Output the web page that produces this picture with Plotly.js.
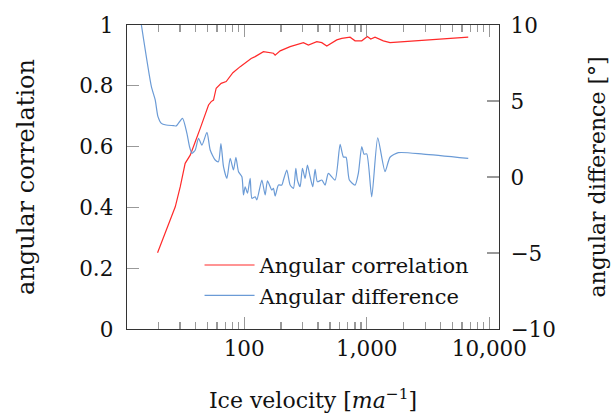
<!DOCTYPE html>
<html><head><meta charset="utf-8">
<script src="https://cdn.plot.ly/plotly-3.0.1.min.js"></script>
<style>html,body{margin:0;padding:0;background:#fff}#chart{width:611px;height:415px}</style>
</head><body><div id="chart"></div>
<script>
// Angular correlation vs ice velocity
const corrVelocity = [19.65,22.7,27.4,30.1,33.0,36.3,38.2,39.9,43.8,48.1,51.2,53.8,56.2,59.1,64.9,71.3,80.9,92.8,105.2,114.0,122.9,143.6,173.3,178.9,196.6,237.1,304.3,334.2,391.3,429.8,472.1,569.5,625.6,731.0,802.8,910.2,1011,1078,1168,1366,1548,6730];
const corrValues   = [0.251,0.315,0.402,0.468,0.545,0.572,0.594,0.616,0.66,0.71,0.737,0.748,0.753,0.792,0.808,0.814,0.843,0.863,0.879,0.89,0.896,0.912,0.907,0.901,0.915,0.929,0.942,0.934,0.945,0.942,0.931,0.951,0.956,0.96,0.948,0.948,0.962,0.954,0.96,0.948,0.942,0.96];
// Angular difference (degrees) vs ice velocity
const diffVelocity = [14.5,17.5,18.8,19.8,21.1,23.1,26.5,27.9,31.4,34.1,35.8,37.5,39.9,42.4,45.2,49.7,52.8,58.0,61.7,64.6,67.8,72.3,76.9,81.8,85.6,89.9,95.8,98.7,101.9,106.4,111.9,115.6,122.9,126.9,139.4,148.3,154.9,168.2,173.3,178.9,190.4,202.9,209.1,222.8,237.1,252.2,263.9,271.9,286.1,298.7,314.2,328.1,345.1,363.0,378.9,395.7,429.8,457.2,486.4,551.5,605.9,644.6,678.2,721.4,802.8,854.0,910.2,950.6,1000,1098,1229,1410,1548,1809,2892,6730];
const diffValues   = [10.0,5.94,5.07,3.97,3.53,3.42,3.38,3.36,3.86,2.87,2.0,1.56,1.78,2.55,2.1,2.94,1.78,1.12,1.0,2.2,0.68,-0.09,1.23,0.46,1.3,0.35,0.02,-1.18,-0.64,-1.07,-0.09,-1.4,-1.3,-1.5,-0.2,-1.18,-0.26,-0.86,-0.75,-1.25,-0.53,-0.53,-0.2,0.46,-0.53,-0.75,0.57,-0.2,-0.64,0.57,-0.09,0.79,0.02,-0.64,0.5,-0.31,-0.2,-0.53,0.24,-0.2,2.15,1.32,1.3,-0.2,-0.53,0.24,2.0,1.5,1.52,-1.3,2.57,0.35,1.3,1.6,1.51,1.23];
// Axis ticks
const xTickVals = [100,1000,10000];
const xTickText = ['100','1,000','10,000'];
const xMinorVals = [20,30,40,50,60,70,80,90,200,300,400,500,600,700,800,900,2000,3000,4000,5000,6000,7000,8000,9000];
const yLeftTicks = [0,0.2,0.4,0.6,0.8,1];
const yLeftText = ['0','0.2','0.4','0.6','0.8','1'];
const yRightTicks = [-10,-5,0,5,10];
const yRightText = ['\u221210','\u22125','0','5','10'];

const FONT = 'DejaVu Serif';
const traces = [
  {x: corrVelocity, y: corrValues, type:'scatter', mode:'lines', name:'Angular correlation',
   line:{color:'#ff2a2a', width:1.2}, yaxis:'y'},
  {x: diffVelocity, y: diffValues, type:'scatter', mode:'lines', name:'Angular difference',
   line:{color:'#6b9bd6', width:1.2, shape:'spline', smoothing:0.6}, yaxis:'y2'}
];
const layout = {
  width:611, height:415,
  margin:{l:127, r:112, t:25, b:86},
  paper_bgcolor:'#fff', plot_bgcolor:'#fff',
  font:{family:FONT, size:21.5, color:'#111'},
  showlegend:true,
  legend:{x:0.195, y:0.16, xanchor:'left', yanchor:'middle', bgcolor:'rgba(0,0,0,0)',
          font:{family:FONT, size:21}, tracegroupgap:0, itemwidth:50},
  xaxis:{type:'log', range:[1.044,4.079], showgrid:false, zeroline:false,
         showline:true, linecolor:'#333', linewidth:1.3, mirror:'ticks',
         ticks:'inside', ticklen:12, tickwidth:1.3, tickcolor:'#999',
         tickvals:xTickVals, ticktext:xTickText, automargin:false,
         minor:{tickvals:xMinorVals, ticks:'inside', ticklen:7, tickwidth:1.3, tickcolor:'#999', showgrid:false},
         title:{text:'Ice velocity [<i>ma</i><sup>\u22121</sup>]', font:{family:FONT, size:22}, standoff:32}},
  yaxis:{range:[0,1], showgrid:false, zeroline:false, showline:true, linecolor:'#333', linewidth:1.3,
         ticks:'inside', ticklen:12, tickwidth:1.3, tickcolor:'#999', automargin:false,
         tickvals:yLeftTicks, ticktext:yLeftText, ticklabelstandoff:8,
         title:{text:'angular correlation', font:{family:FONT, size:24}, standoff:37}},
  yaxis2:{range:[-10,10], overlaying:'y', side:'right', showgrid:false, zeroline:false,
          showline:true, linecolor:'#333', linewidth:1.3, automargin:false,
          ticks:'inside', ticklen:12, tickwidth:1.3, tickcolor:'#999',
          tickvals:yRightTicks, ticktext:yRightText, ticklabelstandoff:6,
          title:{text:'angular difference [°]', font:{family:FONT, size:22}, standoff:34}}
};
Plotly.newPlot('chart', traces, layout, {displayModeBar:false, staticPlot:true});
</script></body></html>
